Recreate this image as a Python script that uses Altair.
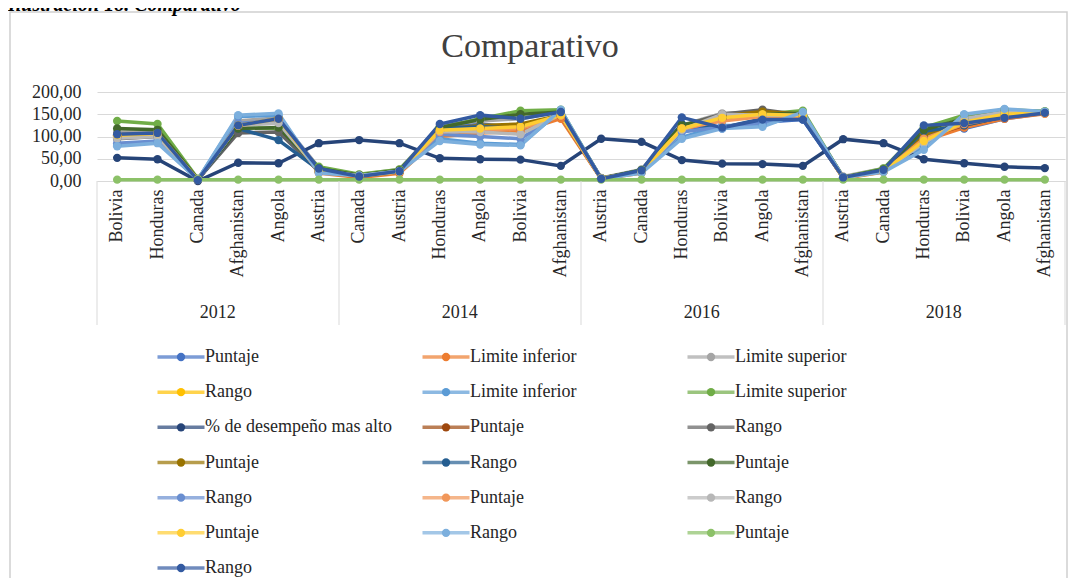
import altair as alt
import pandas as pd

FONT = "Liberation Serif"
TEXT = "#262626"

# ---------------- data ----------------
years = ["2012", "2014", "2016", "2018"]
countries_2012 = ["Bolivia", "Honduras", "Canada", "Afghanistan", "Angola", "Austria"]
countries_2014 = ["Canada", "Austria", "Honduras", "Angola", "Bolivia", "Afghanistan"]
countries_2016 = ["Austria", "Canada", "Honduras", "Bolivia", "Angola", "Afghanistan"]
countries_2018 = ["Austria", "Canada", "Honduras", "Bolivia", "Angola", "Afghanistan"]
country_groups = [countries_2012, countries_2014, countries_2016, countries_2018]

series_names = [
    "Puntaje", "Limite inferior", "Limite superior",
    "Rango", "Limite inferior", "Limite superior",
    "% de desempeño mas alto", "Puntaje", "Rango",
    "Puntaje", "Rango", "Puntaje",
    "Rango", "Puntaje", "Rango",
    "Puntaje", "Rango", "Puntaje",
    "Rango",
]
series_colors = [
    "#4472C4", "#ED7D31", "#A5A5A5", "#FFC000", "#5B9BD5", "#70AD47",
    "#264478", "#9E480E", "#636363", "#997300", "#255E91", "#43682B",
    "#698ED0", "#F1975A", "#B7B7B7", "#FFCD33", "#7CAFDD", "#8CC168",
    "#335AA1",
]

s01 = [102, 106, 3, 125, 140, 25, 10, 20, 118, 128, 120, 148, 6, 22, 120, 118, 132, 138, 8, 22, 110, 118, 140, 152]
s02 = [100, 104, 2, 122, 138, 18, 8, 17, 100, 108, 112, 140, 5, 18, 115, 140, 152, 145, 6, 20, 90, 120, 140, 151]
s03 = [110, 112, 4, 135, 142, 30, 14, 26, 125, 135, 140, 156, 7, 26, 125, 152, 155, 150, 10, 28, 95, 145, 160, 156]
s04 = [102, 106, 3, 124, 139, 22, 10, 20, 110, 120, 125, 148, 6, 22, 118, 145, 150, 148, 7, 22, 92, 130, 150, 154]
s05 = [80, 88, 3, 145, 148, 20, 12, 22, 95, 85, 82, 158, 5, 20, 98, 125, 125, 152, 8, 22, 78, 148, 160, 155]
s06 = [135, 128, 5, 120, 118, 32, 15, 26, 120, 140, 158, 160, 5, 25, 125, 148, 150, 158, 8, 28, 120, 148, 160, 157]
s07 = [52, 49, 0, 41, 40, 85, 92, 85, 51, 49, 48, 34, 95, 88, 47, 39, 38, 34, 94, 85, 49, 40, 32, 29]
s08 = [103, 106, 2, 123, 139, 20, 10, 20, 112, 118, 122, 146, 5, 20, 122, 148, 158, 146, 7, 22, 98, 125, 145, 153]
s09 = [95, 100, 3, 108, 110, 22, 10, 20, 115, 120, 125, 147, 6, 21, 124, 150, 160, 148, 7, 22, 100, 128, 148, 153]
s10 = [104, 107, 3, 124, 140, 23, 11, 21, 116, 125, 128, 148, 6, 22, 120, 146, 156, 150, 8, 23, 105, 130, 150, 154]
s11 = [100, 104, 3, 118, 92, 25, 12, 22, 118, 122, 118, 150, 6, 22, 128, 120, 140, 140, 8, 24, 112, 125, 145, 153]
s12 = [118, 115, 4, 118, 120, 28, 13, 24, 120, 138, 150, 155, 6, 24, 126, 140, 150, 152, 8, 26, 115, 140, 155, 155]
s13 = [85, 90, 3, 130, 135, 22, 12, 22, 105, 100, 95, 152, 6, 20, 110, 122, 130, 148, 7, 22, 88, 135, 152, 154]
s14 = [101, 105, 3, 124, 139, 20, 10, 20, 110, 115, 118, 146, 5, 20, 118, 135, 145, 146, 7, 21, 95, 128, 145, 152]
s15 = [96, 100, 3, 125, 130, 24, 12, 22, 112, 110, 105, 150, 6, 21, 115, 150, 148, 148, 8, 23, 85, 140, 155, 155]
s16 = [103, 107, 3, 125, 140, 22, 11, 21, 114, 118, 122, 148, 6, 21, 118, 142, 150, 147, 7, 22, 90, 132, 150, 154]
s17 = [78, 85, 3, 148, 152, 18, 12, 22, 90, 82, 80, 160, 5, 18, 95, 118, 122, 155, 8, 20, 70, 150, 162, 156]
s18 = [3, 3, 3, 3, 3, 3, 3, 3, 3, 3, 3, 3, 3, 3, 3, 3, 3, 3, 3, 3, 3, 3, 3, 3]
s19 = [105, 108, 2, 125, 140, 28, 10, 22, 128, 148, 140, 155, 5, 24, 143, 120, 138, 138, 8, 25, 125, 130, 142, 153]
series_values = [s01, s02, s03, s04, s05, s06, s07, s08, s09, s10,
                 s11, s12, s13, s14, s15, s16, s17, s18, s19]

y_ticks = [0, 50, 100, 150, 200]

# ---------------- tables ----------------
cat_keys = []
for yr, group in zip(years, country_groups):
    for c in group:
        cat_keys.append(f"{yr}|{c}")

series_keys = [f"{i + 1:02d}" for i in range(len(series_names))]

rows = []
for key, vals in zip(series_keys, series_values):
    for ck, v in zip(cat_keys, vals):
        rows.append({"serie": key, "cat": ck, "valor": v})
df = pd.DataFrame(rows)

year_df = pd.DataFrame({
    "year": years,
    "anchor": [f"{yr}|{g[2]}" for yr, g in zip(years, country_groups)],
})
sep_df = pd.DataFrame({"cat": [f"{yr}|{g[0]}" for yr, g in zip(years, country_groups)]})
end_df = pd.DataFrame({"cat": [cat_keys[-1]]})

leg_df = pd.DataFrame({
    "serie": series_keys,
    "nombre": series_names,
    "row": [i // 3 for i in range(len(series_keys))],
    "col": [i % 3 for i in range(len(series_keys))],
})

W, H = 968, 89

x_scale = alt.Scale(type="band", domain=cat_keys, paddingInner=0, paddingOuter=0)
color_scale = alt.Scale(domain=series_keys, range=series_colors)

x_axis = alt.Axis(
    title=None, labelExpr="split(datum.label, '|')[1]", labelAngle=270,
    labelFont=FONT, labelFontSize=18, labelColor=TEXT, labelPadding=8,
    ticks=False, domainColor="#d9d9d9", grid=False,
)
y_axis = alt.Axis(
    title=None, values=y_ticks,
    labelExpr="replace(format(datum.value, '.2f'), '.', ',')",
    labelFont=FONT, labelFontSize=18, labelColor=TEXT, labelPadding=16,
    ticks=False, domain=False, gridColor="#d9d9d9",
)

lines = alt.Chart(df).mark_line(
    strokeWidth=3.5, point=alt.OverlayMarkDef(filled=True, size=70)
).encode(
    x=alt.X("cat:N", scale=x_scale, axis=x_axis, sort=cat_keys),
    y=alt.Y("valor:Q", scale=alt.Scale(domain=[0, 200], nice=False), axis=y_axis),
    color=alt.Color("serie:N", scale=color_scale, legend=None),
)

year_text = alt.Chart(year_df).mark_text(
    font=FONT, fontSize=18, color=TEXT, dx=20, baseline="middle"
).encode(
    x=alt.X("anchor:N", scale=x_scale, sort=cat_keys),
    y=alt.value(H + 132),
    text="year:N",
)

seps = alt.Chart(sep_df).mark_rule(color="#d9d9d9", strokeWidth=1).encode(
    x=alt.X("cat:N", scale=x_scale, sort=cat_keys, bandPosition=0),
    y=alt.value(H), y2=alt.value(H + 144),
)
end_sep = alt.Chart(end_df).mark_rule(color="#d9d9d9", strokeWidth=1).encode(
    x=alt.X("cat:N", scale=x_scale, sort=cat_keys, bandPosition=1),
    y=alt.value(H), y2=alt.value(H + 144),
)

deco = alt.Chart(pd.DataFrame({"t": ["Comparativo"]}))
title = deco.mark_text(font=FONT, fontSize=34, color="#404040", baseline="middle").encode(
    x=alt.value(433), y=alt.value(-45), text="t:N"
)
caption = alt.Chart(pd.DataFrame({"t": ["Ilustración 18. Comparativo"]})).mark_text(
    font=FONT, fontSize=20, fontStyle="italic", fontWeight="bold", color="#000000",
    align="left", baseline="alphabetic",
).encode(x=alt.value(-89), y=alt.value(-81), text="t:N")
frame = deco.mark_rect(filled=False, stroke="#cfcfcf", strokeWidth=1.5).encode(
    x=alt.value(-87), x2=alt.value(970), y=alt.value(-80), y2=alt.value(620)
)

main = alt.layer(frame, lines, seps, end_sep, year_text, title, caption)

leg_x = alt.X("col:Q", scale=alt.Scale(domain=[0, 2], range=[84, 614], nice=False, zero=False), axis=None)
leg_y = alt.Y("row:Q", scale=alt.Scale(domain=[0, 6], range=[265, 476], nice=False, zero=False), axis=None)
leg_color = alt.Color("serie:N", scale=color_scale, legend=None)

leg_tick = alt.Chart(leg_df).mark_tick(orient="horizontal", size=47, thickness=3.5).encode(
    x=leg_x, y=leg_y, color=leg_color
)
leg_dot = alt.Chart(leg_df).mark_point(filled=True, size=70, opacity=1).encode(
    x=leg_x, y=leg_y, color=leg_color
)
leg_text = alt.Chart(leg_df).mark_text(
    font=FONT, fontSize=18, color=TEXT, align="left", dx=24, baseline="middle"
).encode(x=leg_x, y=leg_y, text="nombre:N")

legend = alt.layer(leg_tick, leg_dot, leg_text)

chart = alt.layer(main, legend).resolve_scale(x="independent", y="independent").properties(
    width=W, height=H,
    autosize=alt.AutoSizeParams(type="none"),
    padding={"left": 89, "top": 84, "right": 3, "bottom": 397},
).configure_view(stroke=None)

chart.save("out.html", embed_options={"renderer": "svg", "actions": False})
